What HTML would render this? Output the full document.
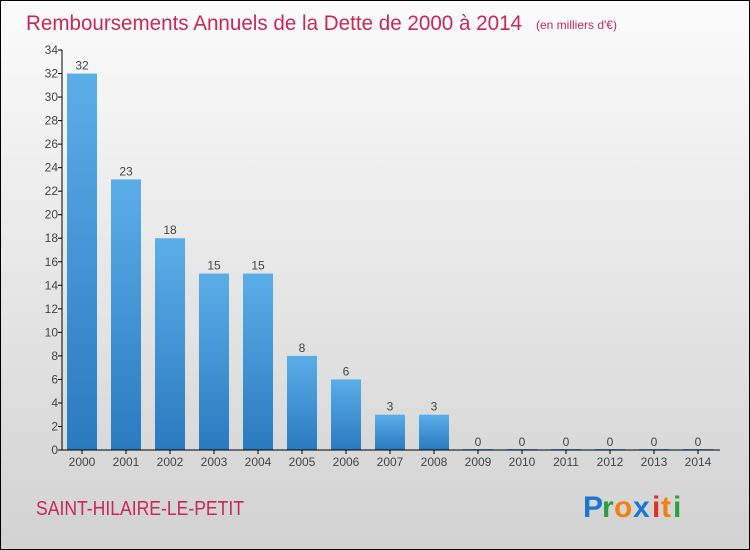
<!DOCTYPE html>
<html><head><meta charset="utf-8"><style>
html,body{margin:0;padding:0}
body{width:750px;height:550px;overflow:hidden;font-family:"Liberation Sans",sans-serif}
#wrap{position:absolute;left:0;top:0;width:748px;height:548px;border:1px solid #000;background:linear-gradient(#fbfbfb,#d2d2d2)}
</style></head><body>
<div id="wrap">
<svg width="750" height="550" style="position:absolute;left:-1px;top:-1px">
<defs><linearGradient id="bg" x1="0" y1="0" x2="0" y2="1"><stop offset="0" stop-color="#5aaee8"/><stop offset="1" stop-color="#2a7ac0"/></linearGradient></defs>
<text x="26" y="30" font-size="21" fill="#c8285a" font-family="Liberation Sans" style="font-weight:300" textLength="496" lengthAdjust="spacingAndGlyphs">Remboursements Annuels de la Dette de 2000 à 2014</text>
<text x="536" y="29" font-size="12" fill="#c8285a">(en milliers d'€)</text>
<g id="yaxis"></g>
<g id="bars"></g>
<g id="xaxis"></g>
<text x="36" y="515" font-size="20" fill="#c8285a" textLength="208" lengthAdjust="spacingAndGlyphs">SAINT-HILAIRE-LE-PETIT</text>
<g font-size="30" font-family="Liberation Sans" font-weight="bold">
<text x="583" y="517" fill="#1a78d0">P</text><text x="602" y="517" fill="#2aa040">r</text><text x="614" y="517" fill="#f08010">o</text><text x="633" y="517" fill="#1a78d0">x</text><text x="652" y="517" fill="#e03020">i</text><text x="661" y="517" fill="#f08010">t</text><text x="673" y="517" fill="#2aa040">i</text>
</g>
</svg>
</div>
<script>
const years=["2000","2001","2002","2003","2004","2005","2006","2007","2008","2009","2010","2011","2012","2013","2014"];
const values=[32,23,18,15,15,8,6,3,3,0,0,0,0,0,0];
const yTicks=[0,2,4,6,8,10,12,14,16,18,20,22,24,26,28,30,32,34];
const NS="http://www.w3.org/2000/svg";
const y0=450,yTop=50,yMax=34,x0=82,step=44,bw=30,axisX=62;
const yS=v=>y0-(v/yMax)*(y0-yTop);
const xS=i=>x0+i*step;
function mk(t,a,p){const e=document.createElementNS(NS,t);for(const k in a)e.setAttribute(k,a[k]);p.appendChild(e);return e;}
const ya=document.getElementById('yaxis'),ba=document.getElementById('bars'),xa=document.getElementById('xaxis');
let l=mk('line',{x1:axisX,x2:axisX,y1:yTop,y2:y0,stroke:'#000'},ya);


yTicks.forEach(v=>{
 const t=mk('line',{x1:axisX-4,x2:axisX,y1:yS(v),y2:yS(v),stroke:'#000'},ya);
 
 
 const tx=mk('text',{x:axisX-4,y:yS(v)+4,'font-size':12,fill:'#444','text-anchor':'end'},ya);
 tx.textContent=v;
 
 
});
values.forEach((v,i)=>{
 const h=Math.max(y0-yS(v),1);
 const r=mk('rect',{x:xS(i)-bw/2,y:y0-h,width:bw,height:h,fill:v>0?'url(#bg)':'#5aaee8'},ba);
 
 
 const t=mk('text',{x:xS(i),y:yS(v)-4,'font-size':12,fill:'#444','text-anchor':'middle'},ba);
 t.textContent=v;
 
 
});
l=mk('line',{x1:axisX,x2:720,y1:y0,y2:y0,stroke:'#000'},xa);


years.forEach((y,i)=>{
 const t=mk('line',{x1:xS(i),x2:xS(i),y1:y0,y2:y0+4,stroke:'#000'},xa);
 
 
 const tx=mk('text',{x:xS(i),y:y0+16,'font-size':12,fill:'#444','text-anchor':'middle'},xa);
 tx.textContent=y;
 
 
});
</script>
</body></html>
